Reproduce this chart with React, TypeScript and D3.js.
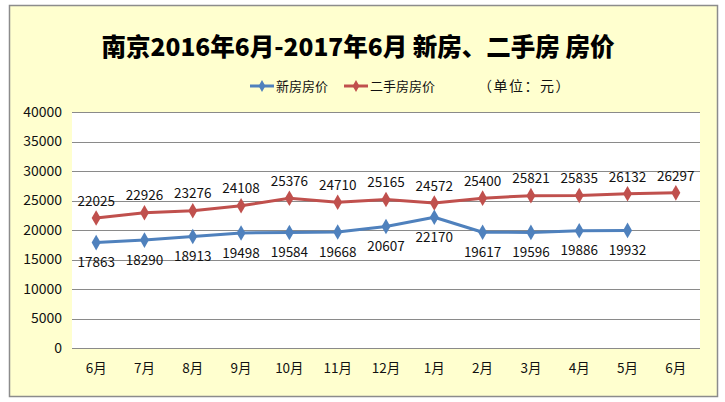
import React, { useEffect, useRef } from 'react';
import * as d3 from 'd3';

const months = ['6月', '7月', '8月', '9月', '10月', '11月', '12月', '1月', '2月', '3月', '4月', '5月', '6月'];
const newHomePrices = [17863, 18290, 18913, 19498, 19584, 19668, 20607, 22170, 19617, 19596, 19886, 19932];
const resalePrices = [22025, 22926, 23276, 24108, 25376, 24710, 25165, 24572, 25400, 25821, 25835, 26132, 26297];
const yTicks = [0, 5000, 10000, 15000, 20000, 25000, 30000, 35000, 40000];

const title = '南京2016年6月-2017年6月 新房、二手房 房价';
const seriesNames = ['新房房价', '二手房房价'];
const unitNote = '（单位：元）';

const BLUE = '#4f81bd';
const RED = '#c0504d';
const CJK = '"Noto Sans CJK SC", "Noto Sans", sans-serif';

export default function App() {
  const svgRef = useRef<SVGSVGElement>(null);

  useEffect(() => {
    document.body.style.margin = '0';
    if (!svgRef.current) return;
    const svg = d3.select(svgRef.current);
    svg.selectAll('*').remove();

    const width = 725;
    const height = 402;
    const left = 72;
    const right = 700;
    const top = 112;
    const bottom = 348;

    // frame
    svg.append('rect').attr('width', width).attr('height', height).attr('fill', '#fff');
    svg.append('rect')
      .attr('x', 9.5).attr('y', 5.5).attr('width', 708).attr('height', 391)
      .attr('fill', '#ffffcf').attr('stroke', '#8c8c8c').attr('stroke-width', 1.5);
    svg.append('rect')
      .attr('x', left).attr('y', top).attr('width', right - left).attr('height', bottom - top)
      .attr('fill', '#fff');

    const x = d3.scaleBand<number>().domain(d3.range(months.length)).range([left, right]);
    const cx = (i: number) => (x(i) as number) + x.bandwidth() / 2;
    const y = d3.scaleLinear().domain([0, 40000]).range([bottom, top]);

    // grid + y labels
    svg.selectAll('.grid').data(yTicks).enter().append('line')
      .attr('x1', left).attr('x2', right)
      .attr('y1', d => Math.round(y(d)) + 0.5).attr('y2', d => Math.round(y(d)) + 0.5)
      .attr('stroke', '#8a8a8a').attr('stroke-width', 1);
    svg.selectAll('.ytick').data(yTicks).enter().append('text')
      .attr('x', 62).attr('y', d => y(d)).attr('dy', '0.35em')
      .attr('text-anchor', 'end').attr('font-family', CJK).attr('font-size', 14)
      .attr('fill', '#111').text(d => d);

    // x labels
    svg.selectAll('.xtick').data(months).enter().append('text')
      .attr('x', (_, i) => cx(i)).attr('y', 368).attr('dy', '0.35em')
      .attr('text-anchor', 'middle').attr('font-family', CJK).attr('font-size', 13.5)
      .attr('fill', '#111').text(d => d);

    const line = d3.line<number>().x((_, i) => cx(i)).y(d => y(d));
    const diamond = d3.symbol().type(d3.symbolDiamond).size(70);

    const drawSeries = (vals: number[], color: string, dy: number) => {
      svg.append('path').datum(vals).attr('d', line)
        .attr('fill', 'none').attr('stroke', color).attr('stroke-width', 3)
        .attr('stroke-linejoin', 'round');
      svg.selectAll(null).data(vals).enter().append('path')
        .attr('d', diamond)
        .attr('transform', (d, i) => `translate(${cx(i)},${y(d)})`)
        .attr('fill', color);
      svg.selectAll(null).data(vals).enter().append('text')
        .attr('x', (_, i) => cx(i)).attr('y', d => y(d) + dy).attr('dy', '0.35em')
        .attr('text-anchor', 'middle').attr('font-family', CJK).attr('font-size', 13.5)
        .attr('fill', '#111').text(d => d);
    };
    drawSeries(resalePrices, RED, -17);
    drawSeries(newHomePrices, BLUE, 20);

    // title
    svg.append('text')
      .attr('x', 358).attr('y', 47).attr('dy', '0.35em')
      .attr('text-anchor', 'middle').attr('font-family', CJK)
      .attr('font-size', 24.5).attr('font-weight', 900).attr('fill', '#000')
      .text(title);

    // legend
    const legend = [
      { name: seriesNames[0], color: BLUE, x: 250 },
      { name: seriesNames[1], color: RED, x: 344 },
    ];
    legend.forEach(l => {
      svg.append('line').attr('x1', l.x).attr('x2', l.x + 24).attr('y1', 86).attr('y2', 86)
        .attr('stroke', l.color).attr('stroke-width', 3);
      svg.append('path').attr('d', d3.symbol().type(d3.symbolDiamond).size(40))
        .attr('transform', `translate(${l.x + 12},86)`).attr('fill', l.color);
      svg.append('text').attr('x', l.x + 26).attr('y', 86).attr('dy', '0.35em')
        .attr('font-family', CJK).attr('font-size', 13).attr('fill', '#111').text(l.name);
    });
    svg.append('text').attr('x', 478).attr('y', 86).attr('dy', '0.35em')
      .attr('font-family', CJK).attr('font-size', 14).attr('letter-spacing', 1.5)
      .attr('fill', '#111').text(unitNote);
  }, []);

  return <svg ref={svgRef} width={725} height={402} style={{ display: 'block' }} />;
}
